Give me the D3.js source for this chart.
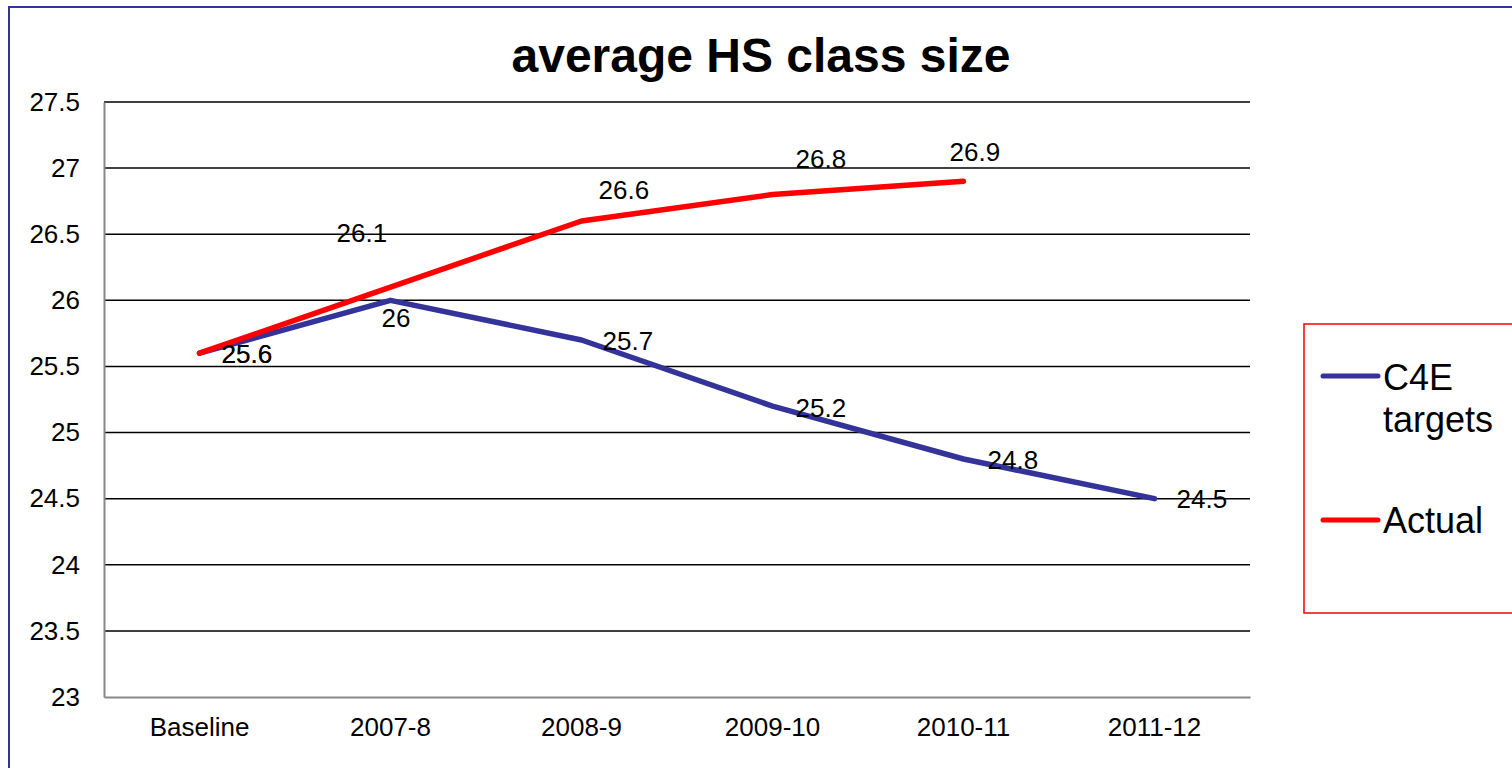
<!DOCTYPE html>
<html>
<head>
<meta charset="utf-8">
<script src="https://cdn.jsdelivr.net/npm/d3@7"></script>
<style>
  body { margin: 0; background: #fff; }
  text { font-family: "Liberation Sans", Arial, sans-serif; }
</style>
</head>
<body>
<script>
var svgWidth = 1512
var svgHeight = 768

// chart data
var categories = ['Baseline', '2007-8', '2008-9', '2009-10', '2010-11', '2011-12']
var c4eTargets = [25.6, 26, 25.7, 25.2, 24.8, 24.5]
var actual = [25.6, 26.1, 26.6, 26.8, 26.9, null]
var yTicks = [23, 23.5, 24, 24.5, 25, 25.5, 26, 26.5, 27, 27.5]
var seriesNames = ['C4E targets', 'Actual']

// hand placed data labels, [dx, dy] from the point
var c4eLabelNudge = [[22, 1], [-9, 18], [21, 1], [23, 2], [24, 1], [22, 0]]
var actualLabelNudge = [[22, 1], [-54, -54], [17, -31], [23, -36], [-14, -29], [0, 0]]

var plotLeft = 104
var plotRight = 1250
var plotTop = 102
var plotBottom = 697

var svgContainer = d3.select('body')
  .append('svg')
  .attr('width', svgWidth)
  .attr('height', svgHeight)

// outer border, runs off the right and bottom edge
svgContainer.append('rect')
  .attr('x', 9)
  .attr('y', 7)
  .attr('width', svgWidth + 20)
  .attr('height', svgHeight + 20)
  .attr('fill', 'white')
  .attr('stroke', '#333399')
  .attr('stroke-width', 2)

var x = d3.scaleBand()
  .domain(categories)
  .range([plotLeft, plotRight])
  .padding(0)

var y = d3.scaleLinear()
  .domain([23, 27.5])
  .range([plotBottom, plotTop])

function cx(i) { return x(categories[i]) + x.bandwidth() / 2 }

// title
svgContainer.append('text')
  .attr('x', 761)
  .attr('y', 72)
  .attr('text-anchor', 'middle')
  .attr('font-size', 48)
  .attr('font-weight', 'bold')
  .text('average HS class size')

// gridlines
svgContainer.append('g')
  .selectAll('line')
  .data(yTicks.filter(d => d > 23))
  .enter()
  .append('line')
  .attr('x1', plotLeft)
  .attr('x2', plotRight)
  .attr('y1', d => y(d))
  .attr('y2', d => y(d))
  .attr('stroke', 'black')
  .attr('stroke-width', 1.5)

// y axis
var yAxis = svgContainer.append('g')
  .attr('transform', 'translate(' + plotLeft + ',0)')
  .call(d3.axisLeft(y).tickValues(yTicks).tickSize(0).tickPadding(24).tickFormat(d3.format('')))
yAxis.select('.domain').attr('stroke', '#888').attr('stroke-width', 2)
yAxis.selectAll('text').attr('font-size', 26).attr('fill', 'black')
  .attr('font-family', '"Liberation Sans", Arial, sans-serif')

// x axis
var xAxis = svgContainer.append('g')
  .attr('transform', 'translate(0,' + plotBottom + ')')
  .call(d3.axisBottom(x).tickSize(0).tickPadding(21))
xAxis.select('.domain').attr('stroke', '#888').attr('stroke-width', 2)
xAxis.selectAll('text').attr('font-size', 26).attr('fill', 'black')
  .attr('font-family', '"Liberation Sans", Arial, sans-serif')

var line = d3.line()
  .defined(d => d != null)
  .x((d, i) => cx(i))
  .y(d => y(d))

svgContainer.append('path')
  .attr('d', line(c4eTargets))
  .attr('fill', 'none')
  .attr('stroke', '#333399')
  .attr('stroke-width', 5.5)
  .attr('stroke-linecap', 'round')
  .attr('stroke-linejoin', 'round')

svgContainer.append('path')
  .attr('d', line(actual))
  .attr('fill', 'none')
  .attr('stroke', '#ff0000')
  .attr('stroke-width', 5.5)
  .attr('stroke-linecap', 'round')
  .attr('stroke-linejoin', 'round')

// data labels
function drawLabels(values, nudge) {
  svgContainer.append('g')
    .selectAll('text')
    .data(values.map((v, i) => ({ v: v, i: i })).filter(d => d.v != null))
    .enter()
    .append('text')
    .attr('x', d => cx(d.i) + nudge[d.i][0])
    .attr('y', d => y(d.v) + nudge[d.i][1])
    .attr('dy', '0.35em')
    .attr('font-size', 26)
    .text(d => d.v)
}
drawLabels(c4eTargets, c4eLabelNudge)
drawLabels(actual, actualLabelNudge)

// legend
svgContainer.append('rect')
  .attr('x', 1304)
  .attr('y', 324)
  .attr('width', 240)
  .attr('height', 289)
  .attr('fill', 'white')
  .attr('stroke', '#ff0000')
  .attr('stroke-width', 1.5)

var legendColors = ['#333399', '#ff0000']
var legendY = [376, 520]

legendColors.forEach(function (c, i) {
  svgContainer.append('line')
    .attr('x1', 1323)
    .attr('x2', 1378)
    .attr('y1', legendY[i])
    .attr('y2', legendY[i])
    .attr('stroke', c)
    .attr('stroke-width', 5)
    .attr('stroke-linecap', 'round')
})

var t1 = svgContainer.append('text')
  .attr('x', 1383)
  .attr('y', 390)
  .attr('font-size', 36)
t1.append('tspan').attr('x', 1383).text(seriesNames[0].split(' ')[0])
t1.append('tspan').attr('x', 1383).attr('dy', 42).text(seriesNames[0].split(' ')[1])

svgContainer.append('text')
  .attr('x', 1383)
  .attr('y', 533)
  .attr('font-size', 36)
  .text(seriesNames[1])
</script>
</body>
</html>
